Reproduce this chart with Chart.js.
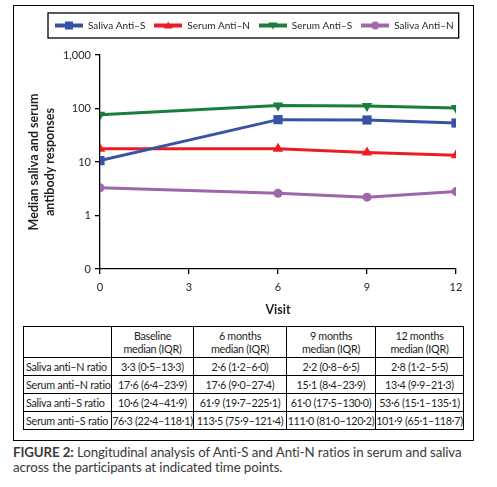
<!DOCTYPE html>
<html>
<head>
<meta charset="utf-8">
<script src="https://cdn.jsdelivr.net/npm/chart.js@4.4.1/dist/chart.umd.min.js"></script>
<style>
  body { margin: 0; background: #fff; width: 497px; height: 487px; position: relative; font-family: Lato, "Open Sans", sans-serif; color: #231f20; }
  .frame { position: absolute; left: 13px; top: 5px; width: 459px; height: 434px; border: 1px solid #000; }
  .plot { position: absolute; left: 0; top: 0; width: 458px; height: 314px; }
  table { position: absolute; left: 9px; top: 320px; width: 440px; border-collapse: collapse; font-size: 10.8px; letter-spacing: -0.3px; table-layout: fixed; }
  td { border: 1px solid #000; text-align: center; padding: 0; height: 17px; line-height: 12px; white-space: nowrap; overflow: hidden; }
  tr.head td { height: 30px; line-height: 13.5px; }
  td.lab { text-align: left; padding-left: 2px; }
  .caption { position: absolute; left: 13px; top: 445px; width: 470px; font-size: 13.3px; line-height: 15px; color: #3a3a3a; letter-spacing: -0.1px; }
  .caption b { font-weight: bold; }
</style>
</head>
<body>
<div class="frame">
  <div class="plot"><canvas id="chart" width="458" height="314"></canvas></div>
  <table id="tbl"></table>
</div>
<div class="caption"><b>FIGURE 2:</b> Longitudinal analysis of Anti-S and Anti-N ratios in serum and saliva across the participants at indicated time points.</div>
<script>
// visits (months) and axis ticks
const visits = [0, 6, 9, 12];
const xTicks = [0, 3, 6, 9, 12];
const yTicks = [0.1, 1, 10, 100, 1000];
const yTickLabels = ['0', '1', '10', '100', '1,000'];

// median ratios
const salivaAntiS = [10.6, 61.9, 61.0, 53.6];
const serumAntiN = [17.6, 17.6, 15.1, 13.4];
const serumAntiS = [76.3, 113.5, 111.0, 101.9];
const salivaAntiN = [3.3, 2.6, 2.2, 2.8];

// IQR for the table
const salivaAntiNIqr = [[0.5, 13.3], [1.2, 6.0], [0.8, 6.5], [1.2, 5.5]];
const serumAntiNIqr = [[6.4, 23.9], [9.0, 27.4], [8.4, 23.9], [9.9, 21.3]];
const salivaAntiSIqr = [[2.4, 41.9], [19.7, 225.1], [17.5, 130.0], [15.1, 135.1]];
const serumAntiSIqr = [[22.4, 118.1], [75.9, 121.4], [81.0, 120.2], [65.1, 118.7]];

const timeLabels = [['Baseline', 'median (IQR)'], ['6 months', 'median (IQR)'], ['9 months', 'median (IQR)'], ['12 months', 'median (IQR)']];
const colWidths = [88, 82, 93, 89, 88];

const series = [
  { label: 'Saliva Anti–S', data: salivaAntiS, color: '#3953a4', style: 'rect', radius: 6.5, rotation: 0 },
  { label: 'Serum Anti–N', data: serumAntiN, color: '#ed1c24', style: 'triangle', radius: 6, rotation: 0 },
  { label: 'Serum Anti–S', data: serumAntiS, color: '#1a7d3b', style: 'triangle', radius: 6, rotation: 180 },
  { label: 'Saliva Anti–N', data: salivaAntiN, color: '#a066ab', style: 'circle', radius: 4.5, rotation: 0 },
];

// small line+marker picture for the legend
function legendIcon(s) {
  const c = document.createElement('canvas');
  c.width = 28; c.height = 12;
  const g = c.getContext('2d');
  g.fillStyle = s.color;
  g.fillRect(0, 4, 28, 4);
  g.beginPath();
  if (s.style === 'rect') {
    g.rect(10, 2, 8, 8);
  } else if (s.style === 'circle') {
    g.arc(14, 6, 4, 0, Math.PI * 2);
  } else if (s.rotation === 180) {
    g.moveTo(9.5, 3); g.lineTo(18.5, 3); g.lineTo(14, 10);
  } else {
    g.moveTo(9.5, 9); g.lineTo(18.5, 9); g.lineTo(14, 2);
  }
  g.fill();
  return c;
}

const legendFrame = {
  id: 'legendFrame',
  beforeLayout(chart) {
    const lg = chart.legend;
    if (lg && !lg._patched) {
      const fit = lg.fit;
      lg.fit = function () { fit.call(this); this.height += 14.5; };
      lg._patched = true;
    }
  },
  afterLayout(chart) {
    chart.legend.left += 32;
    chart.legend.right += 32;
  },
  afterDraw(chart) {
    const hb = chart.legend.legendHitBoxes;
    if (!hb || !hb.length) return;
    const last = hb[hb.length - 1];
    const ctx = chart.ctx;
    ctx.save();
    ctx.strokeStyle = '#000';
    ctx.lineWidth = 1.3;
    ctx.strokeRect(hb[0].left - 7, hb[0].top - 7.5, last.left + last.width + 5 - (hb[0].left - 7), hb[0].height + 15);
    ctx.restore();
  }
};

new Chart(document.getElementById('chart'), {
  type: 'line',
  data: {
    datasets: series.map((s) => ({
      label: s.label,
      data: s.data.map((v, i) => ({ x: visits[i], y: v })),
      borderColor: s.color,
      backgroundColor: s.color,
      borderWidth: 3,
      pointStyle: s.style,
      pointRadius: s.radius,
      pointRotation: s.rotation,
      pointBorderWidth: 0,
      tension: 0,
    })),
  },
  options: {
    responsive: false,
    animation: false,
    devicePixelRatio: 1,
    layout: { padding: { left: 0, right: 16, top: 5.5, bottom: 0 } },
    plugins: {
      tooltip: { enabled: false },
      legend: {
        position: 'top',
        align: 'start',
        labels: {
          usePointStyle: true,
          pointStyleWidth: 28,
          padding: 9,
          color: '#231f20',
          font: { family: 'Lato', size: 10 },
          generateLabels: () => series.map((s, i) => ({
            text: s.label,
            datasetIndex: i,
            pointStyle: legendIcon(s),
            rotation: 0,
            fontColor: '#231f20',
            lineWidth: 0,
          })),
        },
      },
    },
    scales: {
      x: {
        type: 'linear',
        min: 0,
        max: 12,
        afterBuildTicks: (scale) => { scale.ticks = xTicks.map((v) => ({ value: v })); },
        afterFit: (scale) => { scale.height = 51; },
        border: { color: '#000', width: 1.3 },
        grid: { drawOnChartArea: false, drawTicks: true, tickLength: 5, color: '#000', lineWidth: 1.3 },
        ticks: { color: '#231f20', font: { family: 'Lato', size: 11 }, padding: 7, maxRotation: 0 },
        title: { display: true, text: 'Visit', color: '#231f20', font: { family: 'Lato', size: 12.5, weight: 'bold' }, padding: { top: 0, bottom: 3 } },
      },
      y: {
        type: 'logarithmic',
        min: 0.1,
        max: 1000,
        afterBuildTicks: (scale) => { scale.ticks = yTicks.map((v) => ({ value: v })); },
        afterFit: (scale) => { scale.width = 86; },
        border: { color: '#000', width: 1.3 },
        grid: { drawOnChartArea: false, drawTicks: true, tickLength: 5, color: '#000', lineWidth: 1.3 },
        ticks: {
          color: '#231f20',
          font: { family: 'Lato', size: 11 },
          padding: 4,
          callback: (v) => yTickLabels[yTicks.indexOf(v)],
        },
        title: {
          display: true,
          text: ['Median saliva and serum', 'antibody responses'],
          color: '#231f20',
          font: { family: 'Lato', size: 12.5, weight: 'bold', lineHeight: 1.3 },
          padding: { top: 12, bottom: 0 },
        },
      },
    },
  },
  plugins: [legendFrame],
});

// table below the chart
const fmt = (v) => v.toFixed(1).replace('.', '·');
const rows = [
  ['Saliva anti–N ratio', salivaAntiN, salivaAntiNIqr],
  ['Serum anti–N ratio', serumAntiN, serumAntiNIqr],
  ['Saliva anti–S ratio', salivaAntiS, salivaAntiSIqr],
  ['Serum anti–S ratio', serumAntiS, serumAntiSIqr],
];
const tbl = document.getElementById('tbl');
let html = '<colgroup>' + colWidths.map((w) => `<col style="width:${w}px">`).join('') + '</colgroup>';
html += '<tr class="head"><td></td>' + timeLabels.map((t) => `<td>${t[0]}<br>${t[1]}</td>`).join('') + '</tr>';
rows.forEach(([name, med, iqr]) => {
  html += `<tr><td class="lab">${name}</td>` + med.map((m, i) => `<td>${fmt(m)} (${fmt(iqr[i][0])}–${fmt(iqr[i][1])})</td>`).join('') + '</tr>';
});
tbl.innerHTML = html;
</script>
</body>
</html>
